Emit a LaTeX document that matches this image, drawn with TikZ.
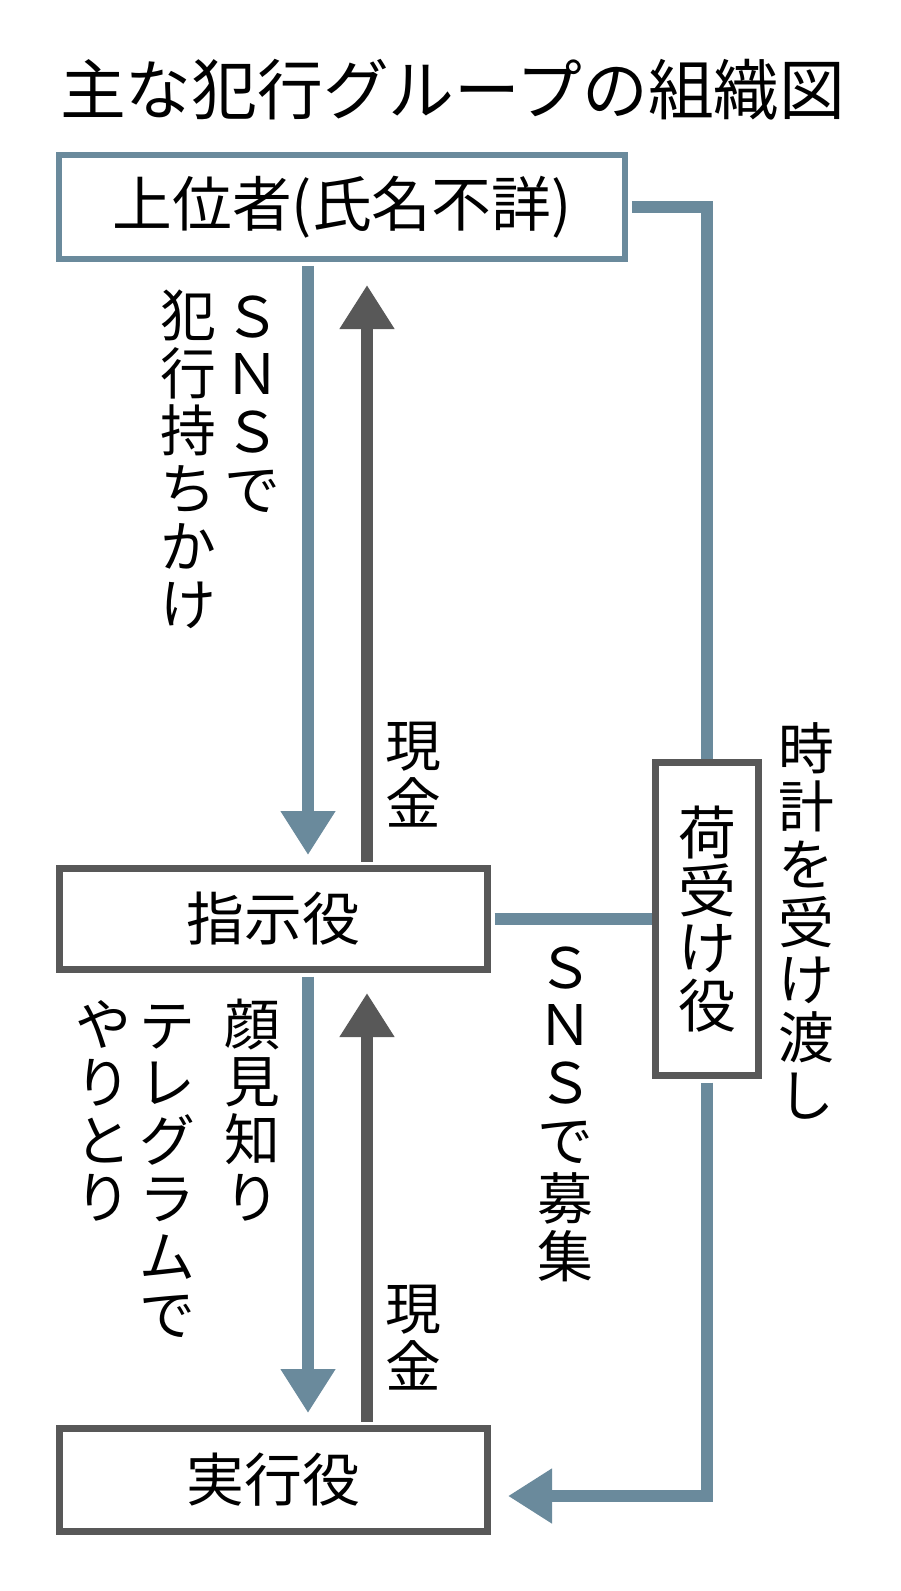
\documentclass[tikz,border=0pt]{standalone}
\usepackage{fontspec}
\setmainfont{Noto Sans CJK JP}
\usetikzlibrary{arrows.meta}
\definecolor{wire}{HTML}{6A8A9C}
\definecolor{ink}{HTML}{585858}
\tikzset{role/.style={draw=ink, line width=7bp, fill=white, inner sep=0pt, font=\fontsize{58}{58}\selectfont},
  tate/.style={align=center, inner sep=0pt, font=\fontsize{56}{58}\selectfont},
  send/.style={draw=wire, line width=12bp, shorten <=3.5bp},
  pass/.style={draw=ink, line width=12bp, shorten <=3.5bp},
  tip/.style={-{Triangle[length=44bp,width=52bp]}}}

\begin{document}
\begin{tikzpicture}[x=1bp, y=-1bp]
		\useasboundingbox (0,0) rectangle (900,1591);
		\node[anchor=west, inner sep=0pt, font=\fontsize{66}{66}\selectfont] (title) at (60,90) {主な犯行グループの組織図};
		\node[role, draw=wire, line width=6.5bp, minimum width=566bp, minimum height=104bp, font=\fontsize{60}{60}\selectfont] (boss) at (342,207) {上位者(氏名不詳)};
		\node[role, minimum width=428bp, minimum height=101bp] (dir) at (273.5,919) {指示役};
		\node[role, minimum width=428bp, minimum height=103bp] (exec) at (273.5,1480) {実行役};
		\node[role, align=center, minimum width=103bp, minimum height=313bp] (recv) at (707,919) {荷\\受\\け\\役};
		\node[tate] (snsA) at (252,404) {Ｓ\\Ｎ\\Ｓ\\で};
		\node[tate] (offer) at (188,459) {犯\\行\\持\\ち\\か\\け};
		\node[tate] (cashA) at (413,775) {現\\金};
		\node[tate] (watch) at (806,921) {時\\計\\を\\受\\け\\渡\\し};
		\node[tate] (snsB) at (565,1114) {Ｓ\\Ｎ\\Ｓ\\で\\募\\集};
		\node[tate] (known) at (252,1110) {顔\\見\\知\\り};
		\node[tate] (tele) at (167,1171) {テ\\レ\\グ\\ラ\\ム\\で};
		\node[tate] (talk) at (103,1111) {や\\り\\と\\り};
		\node[tate] (cashB) at (413,1338) {現\\金};
		\coordinate (dnA) at (308,855);
		\coordinate (upA) at (367,285);
		\coordinate (dnB) at (308,1413);
		\coordinate (upB) at (367,993);
		\coordinate (toExec) at (508,1496);
		\draw[send, tip] (boss.south -| dnA) -- (dnA);
		\draw[pass, tip] (dir.north -| upA) -- (upA);
		\draw[send, tip] (dir.south -| dnB) -- (dnB);
		\draw[pass, tip] (exec.north -| upB) -- (upB);
		\draw[send] (boss.east) -| (recv.north);
		\draw[send] (dir.east) -- (recv.west);
		\draw[send, tip] (recv.south) |- (toExec);
\end{tikzpicture}
\end{document}
